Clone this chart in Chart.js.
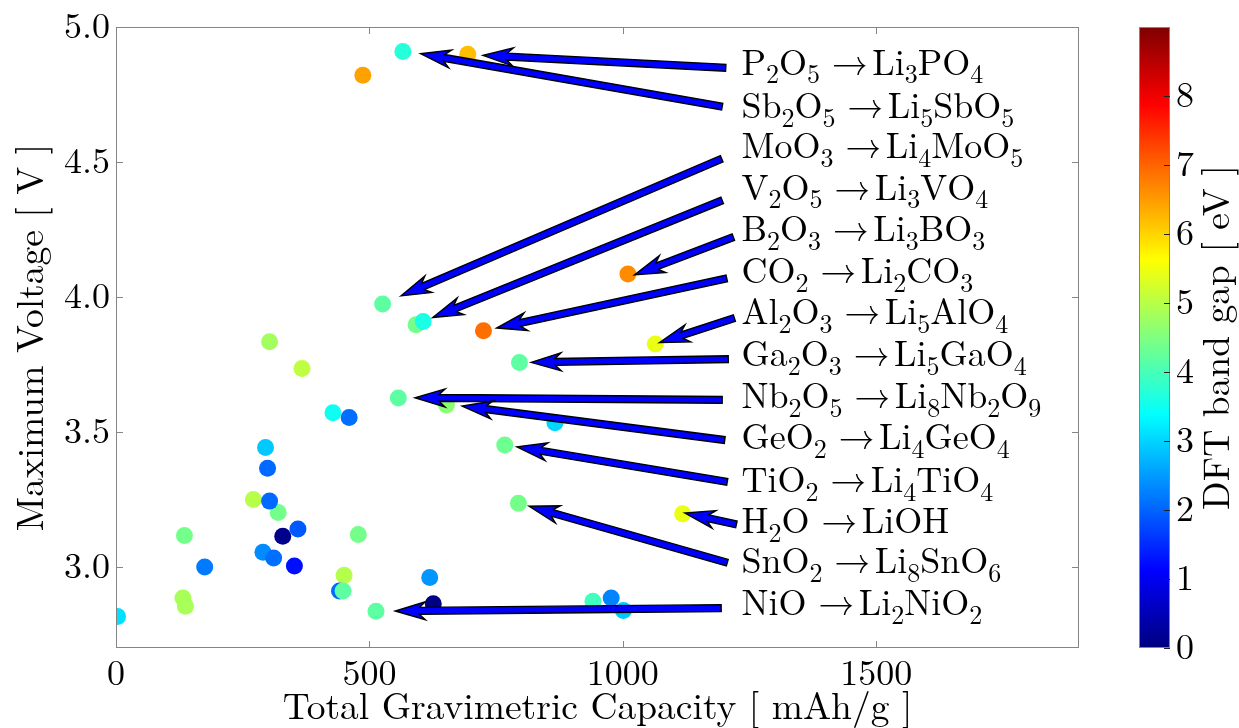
<!DOCTYPE html>
<html>
<head>
<meta charset="utf-8">
<script src="https://cdn.jsdelivr.net/npm/chart.js@4.4.0/dist/chart.umd.min.js"></script>
<style>
  html, body { margin: 0; padding: 0; background: #fff; }
  #grafico { display: block; }
</style>
</head>
<body>
<canvas id="grafico" width="1239" height="728"></canvas>
<script>
// capacidade total (mAh/g), voltagem máxima (V) e band gap DFT (eV) de cada composto
const capacidade = [3, 132, 137, 135, 175, 271, 295, 299, 320, 303, 329, 359, 290, 311, 352,
  478, 450, 441, 448, 619, 626, 513, 941, 977, 1001, 794, 1118, 767, 866, 652,
  557, 428, 460, 796, 367, 303, 1064, 725, 592, 606, 526, 1010, 487, 566, 694];
const voltagem = [2.817, 2.885, 2.855, 3.117, 3.000, 3.250, 3.443, 3.366, 3.202, 3.244, 3.114, 3.141, 3.055, 3.033, 3.004,
  3.120, 2.969, 2.911, 2.911, 2.961, 2.864, 2.836, 2.873, 2.885, 2.839, 3.236, 3.197, 3.452, 3.534, 3.600,
  3.626, 3.571, 3.554, 3.757, 3.735, 3.834, 3.826, 3.875, 3.897, 3.909, 3.974, 4.085, 4.821, 4.909, 4.899];
const bandGap = [3.1, 4.85, 4.85, 4.4, 2.2, 5.0, 2.9, 2.05, 4.4, 2.05, 0.1, 1.9, 2.35, 2.1, 1.25,
  4.4, 4.95, 2.05, 4.2, 2.45, 0.05, 4.2, 3.95, 2.3, 2.9, 4.4, 5.45, 4.35, 3.0, 4.6,
  4.2, 3.5, 2.1, 4.2, 5.05, 4.8, 5.45, 6.9, 4.4, 3.6, 4.2, 6.65, 6.45, 3.7, 6.2];

// reações anotadas e as setas (início no texto, ponta no composto)
const reacoes = ['P_2O_5 →Li_3PO_4', 'Sb_2O_5 →Li_5SbO_5', 'MoO_3 →Li_4MoO_5', 'V_2O_5 →Li_3VO_4',
  'B_2O_3 →Li_3BO_3', 'CO_2 →Li_2CO_3', 'Al_2O_3 →Li_5AlO_4', 'Ga_2O_3 →Li_5GaO_4',
  'Nb_2O_5 →Li_8Nb_2O_9', 'GeO_2 →Li_4GeO_4', 'TiO_2 →Li_4TiO_4', 'H_2O →LiOH',
  'SnO_2 →Li_8SnO_6', 'NiO →Li_2NiO_2'];
const rotuloX = 1234;
const rotuloY = [4.824, 4.664, 4.515, 4.361, 4.206, 4.052, 3.901, 3.745, 3.588, 3.436, 3.278, 3.126, 2.978, 2.821];
const setaInicio = [[1203, 4.849], [1196, 4.705], [1195, 4.512], [1196, 4.358], [1218, 4.222], [1205, 4.069], [1220, 3.922],
  [1208, 3.770], [1196, 3.619], [1201, 3.470], [1206, 3.315], [1224, 3.158], [1206, 3.016], [1194, 2.848]];
const setaFim = [[724, 4.895], [601, 4.901], [562, 4.004], [625, 3.924], [1023, 4.082], [751, 3.885], [1072, 3.831],
  [819, 3.758], [590, 3.627], [683, 3.596], [791, 3.445], [1122, 3.200], [815, 3.225], [551, 2.837]];

const ticksX = [0, 500, 1000, 1500];
const ticksY = [3.0, 3.5, 4.0, 4.5, 5.0];
const ticksCor = [0, 1, 2, 3, 4, 5, 6, 7, 8];
const gapMax = 9;

const fonte = "'Latin Modern Roman', 'Liberation Serif', serif";

// mapa de cores "jet" (igual ao do matlab)
function corJet(v) {
  const t = Math.min(Math.max(v / gapMax, 0), 1);
  const c = k => Math.round(255 * Math.min(Math.max(1.5 - Math.abs(4 * t - k), 0), 1));
  return `rgb(${c(3)},${c(2)},${c(1)})`;
}

// texto com subscritos: "_" indica que o próximo caractere fica embaixo
function desenharFormula(ctx, texto, x, y, tam) {
  let cx = x;
  for (let i = 0; i < texto.length; i++) {
    let ch = texto[i];
    let sub = false;
    if (ch === '_') { sub = true; ch = texto[++i]; }
    const t = Math.round(sub ? tam * 0.72 : tam);
    ctx.font = `${t}px ${fonte}`;
    ctx.fillText(ch, cx, sub ? y + tam * 0.25 : y);
    cx += ctx.measureText(ch).width;
    if (ch === '→') cx += tam * 0.12;
  }
}

function desenharSeta(ctx, x1, y1, x2, y2) {
  const ang = Math.atan2(y1 - y2, x1 - x2);
  const comp = Math.hypot(x1 - x2, y1 - y2);
  const L = 30, hw = 9, sw = 3.4;
  const pts = [[0, 0], [L, hw], [L * 0.8, sw], [comp, sw], [comp, -sw], [L * 0.8, -sw], [L, -hw]];
  ctx.save();
  ctx.translate(x2, y2);
  ctx.rotate(ang);
  ctx.beginPath();
  pts.forEach((p, i) => i ? ctx.lineTo(p[0], p[1]) : ctx.moveTo(p[0], p[1]));
  ctx.closePath();
  ctx.fillStyle = '#0000ff';
  ctx.fill();
  ctx.lineWidth = 1.4;
  ctx.strokeStyle = '#000';
  ctx.lineJoin = 'miter';
  ctx.stroke();
  ctx.restore();
}

// caixa dos eixos, ticks para dentro, setas, rótulos e barra de cores
const pluginAnotacoes = {
  id: 'anotacoes',
  afterDatasetsDraw(chart) {
    const { ctx, chartArea: a, scales: { x, y, cb } } = chart;
    ctx.save();
    ctx.strokeStyle = '#858585';
    ctx.lineWidth = 1;
    ctx.strokeRect(a.left + 0.5, a.top + 0.5, a.right - a.left - 1, a.bottom - a.top - 1);
    ctx.beginPath();
    ticksX.forEach(v => {
      const px = Math.round(x.getPixelForValue(v)) + 0.5;
      ctx.moveTo(px, a.bottom); ctx.lineTo(px, a.bottom - 7);
      ctx.moveTo(px, a.top); ctx.lineTo(px, a.top + 7);
    });
    ticksY.forEach(v => {
      const py = Math.round(y.getPixelForValue(v)) + 0.5;
      ctx.moveTo(a.left, py); ctx.lineTo(a.left + 7, py);
      ctx.moveTo(a.right, py); ctx.lineTo(a.right - 7, py);
    });
    ctx.stroke();

    setaInicio.forEach((p, i) => {
      desenharSeta(ctx, x.getPixelForValue(p[0]), y.getPixelForValue(p[1]),
        x.getPixelForValue(setaFim[i][0]), y.getPixelForValue(setaFim[i][1]));
    });

    ctx.fillStyle = '#000';
    ctx.textBaseline = 'alphabetic';
    ctx.textAlign = 'left';
    reacoes.forEach((r, i) => {
      desenharFormula(ctx, r, x.getPixelForValue(rotuloX), y.getPixelForValue(rotuloY[i]), 35.5);
    });

    // barra de cores
    const bx = 1139, bw = 31;
    const g = ctx.createLinearGradient(0, a.bottom, 0, a.top);
    for (let k = 0; k <= 64; k++) g.addColorStop(k / 64, corJet(gapMax * k / 64));
    ctx.fillStyle = g;
    ctx.fillRect(bx, a.top, bw, a.bottom - a.top);
    ctx.strokeStyle = '#858585';
    ctx.strokeRect(bx + 0.5, a.top + 0.5, bw - 1, a.bottom - a.top - 1);
    ctx.strokeStyle = '#222';
    ctx.beginPath();
    ticksCor.forEach(v => {
      const py = Math.round(cb.getPixelForValue(v)) + 0.5;
      ctx.moveTo(bx + bw - 6, py); ctx.lineTo(bx + bw, py);
    });
    ctx.stroke();

    ctx.fillStyle = '#000';
    ctx.font = `36px ${fonte}`;
    ctx.textAlign = 'left';
    ctx.textBaseline = 'middle';
    ticksCor.forEach(v => ctx.fillText(String(v), bx + bw + 6, cb.getPixelForValue(v)));

    ctx.translate(1218, (a.top + a.bottom) / 2);
    ctx.rotate(-Math.PI / 2);
    ctx.textAlign = 'center';
    ctx.font = `37.5px ${fonte}`;
    ctx.fillText('DFT band gap [ eV ]', 0, 0);
    ctx.restore();
  }
};

const fonteTick = { family: fonte, size: 36, lineHeight: 1 };
const fonteTitulo = { family: fonte, size: 37.5, lineHeight: 1 };

const ctx = document.getElementById('grafico').getContext('2d');
new Chart(ctx, {
  type: 'scatter',
  data: {
    datasets: [{
      data: capacidade.map((c, i) => ({ x: c, y: voltagem[i] })),
      backgroundColor: bandGap.map(corJet),
      pointRadius: 8.5,
      pointHoverRadius: 8.5,
      borderWidth: 0,
      clip: 0
    }]
  },
  options: {
    responsive: false,
    animation: false,
    devicePixelRatio: 1,
    layout: { autoPadding: false, padding: { top: 27, left: 0, right: 0, bottom: 0 } },
    plugins: { legend: { display: false }, tooltip: { enabled: false } },
    scales: {
      x: {
        type: 'linear', min: 0, max: 1900,
        afterBuildTicks: s => { s.ticks = ticksX.map(v => ({ value: v })); },
        afterFit: s => { s.height = 80; },
        grid: { display: false, drawTicks: false },
        border: { display: false },
        ticks: { font: fonteTick, color: '#000', padding: 8, maxRotation: 0, callback: v => String(v) },
        title: { display: true, text: 'Total Gravimetric Capacity [ mAh/g ]', font: fonteTitulo, color: '#000', padding: { top: 0, bottom: 2 } }
      },
      y: {
        type: 'linear', min: 2.7, max: 5.0,
        afterBuildTicks: s => { s.ticks = ticksY.map(v => ({ value: v })); },
        afterFit: s => { s.width = 116; },
        grid: { display: false, drawTicks: false },
        border: { display: false },
        ticks: { font: fonteTick, color: '#000', padding: 6, callback: v => v.toFixed(1) },
        title: { display: true, text: 'Maximum Voltage [ V ]', font: fonteTitulo, color: '#000', padding: { top: 13, bottom: 0 } }
      },
      // escala da barra de cores (rótulos desenhados no plugin)
      cb: {
        type: 'linear', position: 'right', min: 0, max: gapMax,
        afterFit: s => { s.width = 160; },
        grid: { display: false, drawTicks: false },
        border: { display: false },
        ticks: { display: false }
      }
    }
  },
  plugins: [pluginAnotacoes]
});
</script>
</body>
</html>
